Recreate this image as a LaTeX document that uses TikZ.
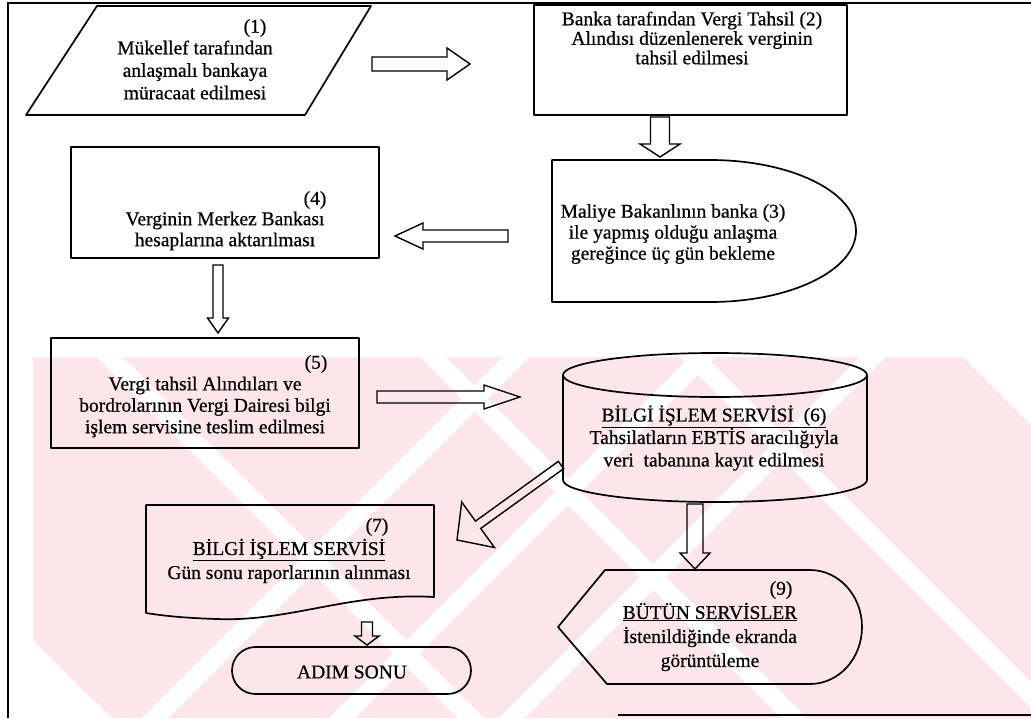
\documentclass[tikz,border=0pt]{standalone}
\usepackage{fontspec}
\setmainfont{Liberation Serif}[FakeBold=0.6]
\usetikzlibrary{calc}

\definecolor{wmpink}{RGB}{252,230,235}

\tikzset{
  shapeline/.style={draw=black, line width=1.7pt, line join=round},
  blockarrow/.style={draw=black, line width=1.4pt, line join=miter},
  frameline/.style={draw=black, line width=1.6pt},
  txt/.style={align=center, inner sep=0pt, text=black, font=\fontsize{19.5}{#1}\selectfont},
  txt/.default=21.5,
  num/.style={inner sep=0pt, text=black, font=\fontsize{19.5}{21.5}\selectfont},
}

% hollow block arrow: #1 tail, #2 tip, #3 shaft half width, #4 head half width, #5 head length
\newcommand{\hollowarrow}[5]{%
  \coordinate (ha-base) at ($(#2)!#5!(#1)$);
  \draw[blockarrow]
    ($(#1)!#3!90:(#2)$) -- ($(ha-base)!#3!90:(#2)$) -- ($(ha-base)!#4!90:(#2)$)
    -- (#2)
    -- ($(ha-base)!#4!-90:(#2)$) -- ($(ha-base)!#3!-90:(#2)$) -- ($(#1)!#3!-90:(#2)$) -- cycle;
}

\begin{document}
\begin{tikzpicture}[x=1pt,y=-1pt]
\useasboundingbox (0,0) rectangle (1031,718);

% background watermark stripes
\fill[wmpink] (33,357) -- (963,357) -- (1031,425) -- (1031,718) -- (112,718) -- (33,640) -- cycle;
\foreach \g in {97,420,680}
  \fill[white] (\g,357) -- ++(26,0) -- ++(361,361) -- ++(-26,0) -- cycle;
\foreach \g in {503,690,860}
  \fill[white] (\g,357) -- ++(26,0) -- ++(-361,361) -- ++(-26,0) -- cycle;

% page frame
\draw[frameline] (8,718) -- (8,3) -- (1031,3);
\draw[frameline] (618,715) -- (1031,715);

% flowchart symbols
\draw[shapeline] (97,6) -- (371,6) -- (305,115) -- (26,115) -- cycle;
\draw[shapeline] (534,5) rectangle (847,115);
\draw[shapeline] (552,160) -- (710,160) arc[start angle=-90,end angle=90,x radius=146,y radius=71] -- (552,302) -- cycle;
\draw[shapeline] (71,147) rectangle (379,258);
\draw[shapeline] (51,338) rectangle (359,448);
\draw[shapeline] (563,375) -- (563,480) arc[start angle=180,end angle=0,x radius=152,y radius=22] -- (867,375);
\draw[shapeline] (715,375) ellipse[x radius=152,y radius=22];
\draw[shapeline] (146,505) -- (434,505) -- (434,597)
  .. controls (350,592) and (290,622) .. (217,619)
  .. controls (185,618) and (165,616) .. (146,613) -- cycle;
\draw[shapeline, rounded corners=23.5pt] (232,647) rectangle (471,694);
\draw[shapeline] (558,627) -- (605,570) -- (810,570) arc[start angle=-90,end angle=90,x radius=52,y radius=57] -- (607,684) -- cycle;

% texts
\node[txt=22.5] (t1) at (195,70) {Mükellef tarafından\\anlaşmalı bankaya\\müracaat edilmesi};
\node[num] (k1) at (255,28) {(1)};
\node[txt=19.5] (t2) at (692,38) {Banka tarafından Vergi Tahsil (2)\\Alındısı düzenlenerek verginin\\tahsil edilmesi};
\node[txt=21] (t3) at (673,234) {Maliye Bakanlının banka (3)\\ile yapmış olduğu anlaşma\\gereğince üç gün bekleme};
\node[txt=21] (t4) at (225,231) {Verginin Merkez Bankası\\hesaplarına aktarılması};
\node[num] (k4) at (315,200) {(4)};
\node[txt=21.5] (t5) at (205,407) {Vergi tahsil Alındıları ve\\bordrolarının Vergi Dairesi bilgi\\işlem servisine teslim edilmesi};
\node[num] (k5) at (316,364) {(5)};
\node[txt=22.5] (t6) at (714,438) {\underline{BİLGİ İŞLEM SERVİSİ\ \ (6)}\\Tahsilatların EBTİS aracılığıyla\\veri\ \ tabanına kayıt edilmesi};
\node[txt=24] (t7) at (289,561) {\underline{BİLGİ İŞLEM SERVİSİ}\\Gün sonu raporlarının alınması};
\node[num] (k7) at (377,527) {(7)};
\node[txt] (t8) at (352,672) {ADIM SONU};
\node[txt=24] (t9) at (710,637) {\underline{BÜTÜN SERVİSLER}\\İstenildiğinde ekranda\\görüntüleme};
\node[num] (k9) at (781,590) {(9)};

% arrow end points
\coordinate (a12t) at (372,64);  \coordinate (a12h) at (470,64);
\coordinate (a23t) at (660,117); \coordinate (a23h) at (660,157);
\coordinate (a34t) at (508,236); \coordinate (a34h) at (395,236);
\coordinate (a45t) at (218,265); \coordinate (a45h) at (218,333);
\coordinate (a56t) at (377,397); \coordinate (a56h) at (520,397);
\coordinate (a67t) at (561,465); \coordinate (a67h) at (457,540);
\coordinate (a7et) at (367,622); \coordinate (a7eh) at (367,645);
\coordinate (a69t) at (695,504); \coordinate (a69h) at (695,569);

% block arrows
\hollowarrow{a12t}{a12h}{7pt}{16pt}{23pt}
\hollowarrow{a23t}{a23h}{9.5pt}{20pt}{13pt}
\hollowarrow{a34t}{a34h}{6pt}{13pt}{28pt}
\hollowarrow{a45t}{a45h}{5pt}{10.5pt}{15pt}
\hollowarrow{a56t}{a56h}{6pt}{12pt}{36pt}
\hollowarrow{a67t}{a67h}{4.5pt}{28pt}{26pt}
\hollowarrow{a7et}{a7eh}{5.5pt}{12pt}{9pt}
\hollowarrow{a69t}{a69h}{8pt}{15pt}{16pt}
\end{tikzpicture}
\end{document}
